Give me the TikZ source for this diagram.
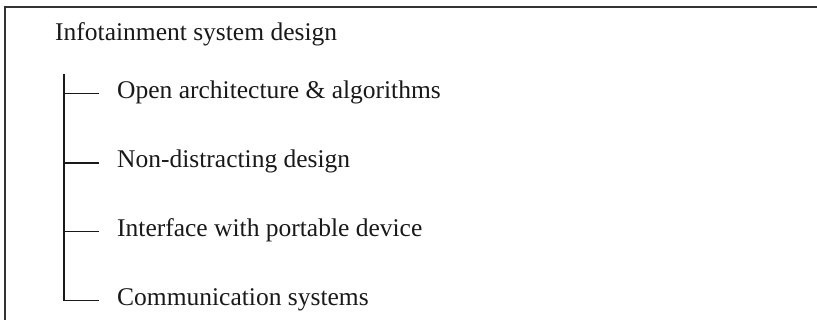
\documentclass[tikz,border=0pt]{standalone}
\usepackage{fontspec}
\setmainfont{Liberation Serif}
\begin{document}
\begin{tikzpicture}[x=1pt,y=-1pt,
  label text/.style={anchor=west,inner sep=0pt,text height=10pt,text depth=0pt,
    font=\fontsize{25.5}{30}\selectfont,text=black!90},
  frame line/.style={draw=black!80,line width=2pt},
  tree line/.style={draw=black!90,line width=1.8pt}]
\useasboundingbox (0,0) rectangle (817,320);
% open frame: top and left edges only
\draw[frame line] (817,7) -- (5,7) -- (5,321);
% title and branches (node y = baseline - 5)
\node[label text] (title) at (55,36) {Infotainment system design};
\node[label text] (i1) at (117,93.5) {Open architecture \& algorithms};
\node[label text] (i2) at (117,163) {Non-distracting design};
\node[label text] (i3) at (117,231.5) {Interface with portable device};
\node[label text] (i4) at (117,300.5) {Communication systems};
\coordinate (trunk) at (64,74);
% tree connectors
\draw[tree line] (trunk) |- ([xshift=-18pt]i4.west);
\foreach \n in {i1,i2,i3}
  \draw[tree line] (trunk |- \n.west) -- ([xshift=-18pt]\n.west);
\end{tikzpicture}
\end{document}
